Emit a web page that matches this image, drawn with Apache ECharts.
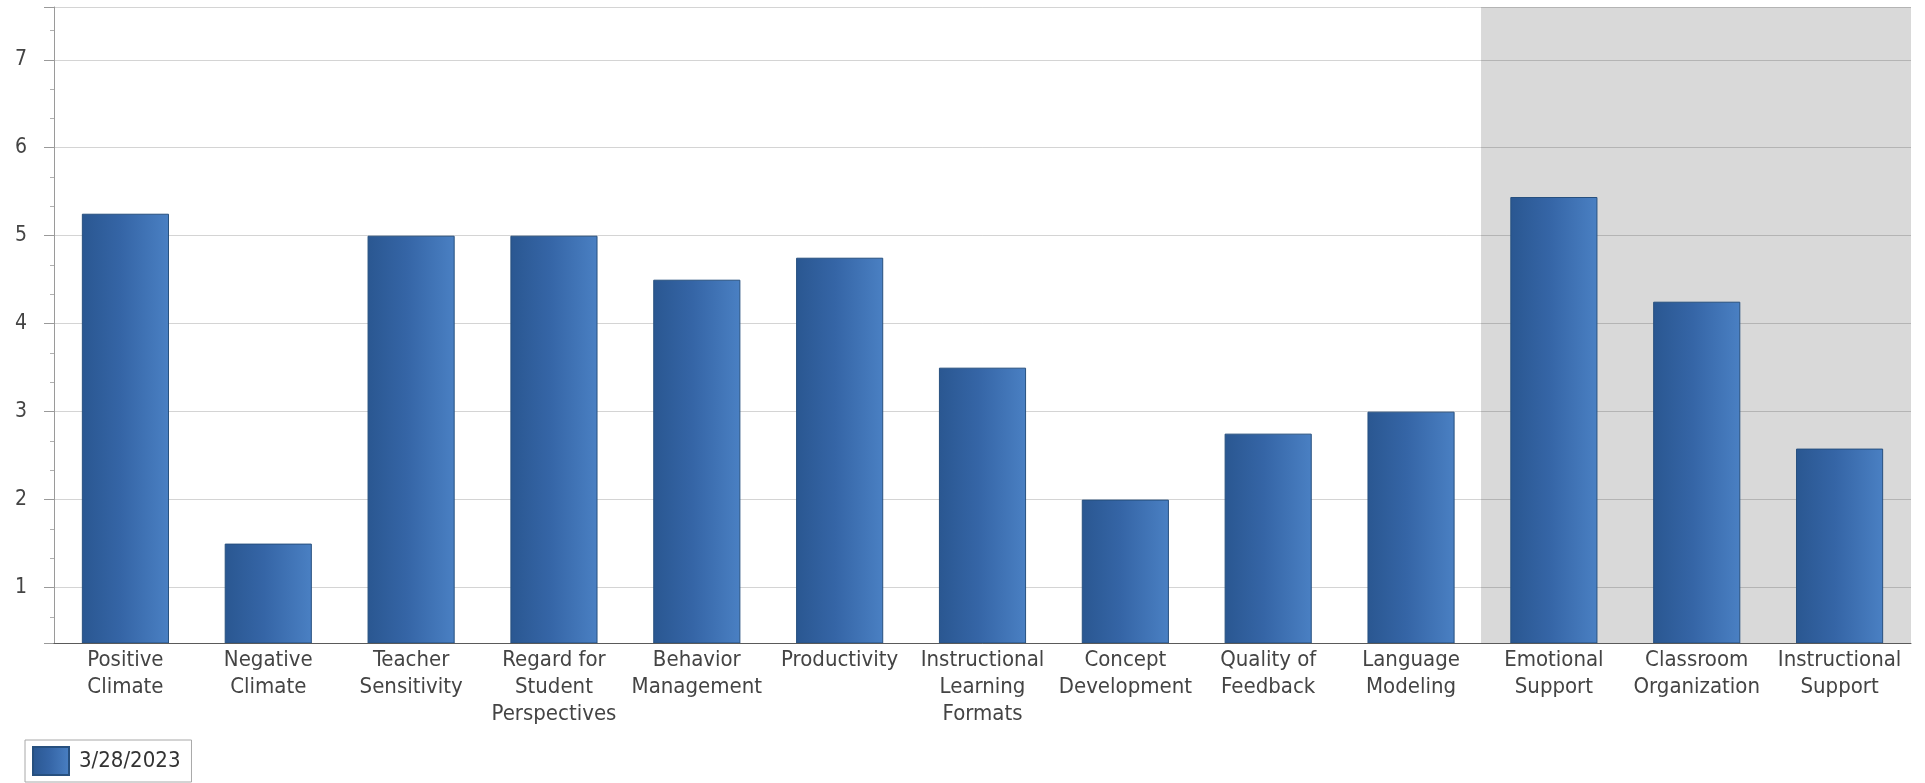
<!DOCTYPE html>
<html>
<head>
<meta charset="utf-8">
<title>CLASS Domain Scores</title>
<script src="https://cdn.jsdelivr.net/npm/echarts@6/dist/echarts.min.js"></script>
<style>
  html, body { margin: 0; padding: 0; background: #ffffff; }
  #chart { width: 1925px; height: 783px; }
</style>
</head>
<body>
<div id="chart"></div>
<script>
// Dimension and domain names, as printed under each bar
const categories = [
  'Positive\nClimate',
  'Negative\nClimate',
  'Teacher\nSensitivity',
  'Regard for\nStudent\nPerspectives',
  'Behavior\nManagement',
  'Productivity',
  'Instructional\nLearning\nFormats',
  'Concept\nDevelopment',
  'Quality of\nFeedback',
  'Language\nModeling',
  'Emotional\nSupport',
  'Classroom\nOrganization',
  'Instructional\nSupport'
];

// Observation scores for the session
const sessionName = '3/28/2023';
const scores = [5.25, 1.5, 5, 5, 4.5, 4.75, 3.5, 2, 2.75, 3, 5.44, 4.25, 2.58];

// Domain summary columns get a shaded backdrop
const domainColumns = [false, false, false, false, false, false, false, false, false, false, true, true, true];

// Value axis range and tick labels
const yMin = 0.37;
const yMax = 7.6;
const yTickLabels = [1, 2, 3, 4, 5, 6, 7];

const FONT = "'DejaVu Sans Condensed', 'DejaVu Sans', sans-serif";

const barFill = new echarts.graphic.LinearGradient(0, 0, 1, 0, [
  { offset: 0, color: '#2a5791' },
  { offset: 0.45, color: '#3565a6' },
  { offset: 1, color: '#4a80c3' }
]);

const chart = echarts.init(document.getElementById('chart'), null, { renderer: 'canvas' });

chart.setOption({
  animation: false,
  backgroundColor: '#ffffff',
  grid: { left: 54, right: 14, top: 7, bottom: 140, containLabel: false },
  legend: {
    left: 25,
    top: 740,
    data: [sessionName],
    icon: 'rect',
    itemWidth: 36,
    itemHeight: 28,
    borderColor: '#a8a8a8',
    borderWidth: 1,
    borderRadius: 0,
    padding: [6, 11, 6, 7],
    textStyle: { fontFamily: FONT, fontSize: 22, color: '#333333', padding: [0, 0, 0, 5] }
  },
  xAxis: [
    {
      type: 'category',
      data: categories,
      boundaryGap: true,
      axisLine: { show: true, lineStyle: { color: '#5a5a5a', width: 1 } },
      axisTick: { show: false },
      axisLabel: {
        interval: 0,
        margin: 4,
        fontFamily: FONT,
        fontSize: 22,
        lineHeight: 27,
        color: '#444444',
        align: 'center'
      },
      splitLine: { show: false },
      z: 3
    },
    {
      type: 'category',
      data: categories,
      boundaryGap: true,
      show: false
    }
  ],
  yAxis: {
    type: 'value',
    min: yMin,
    max: yMax,
    splitNumber: 7,
    z: 1.5,
    axisLine: { show: true, lineStyle: { color: '#9a9a9a', width: 1 } },
    axisTick: { show: true, length: 10, lineStyle: { color: '#9a9a9a' } },
    minorTick: { show: true, splitNumber: 3, length: 4, lineStyle: { color: '#b0b0b0' } },
    axisLabel: {
      margin: 27,
      fontFamily: FONT,
      fontSize: 21,
      color: '#444444',
      showMinLabel: false,
      showMaxLabel: false,
      formatter: function (v) {
        return yTickLabels.indexOf(v) >= 0 ? String(v) : '';
      }
    },
    splitLine: { show: true, lineStyle: { color: 'rgba(0,0,0,0.17)', width: 1 } }
  },
  series: [
    {
      name: 'domain-backdrop',
      type: 'bar',
      xAxisIndex: 1,
      barWidth: '102%',
      silent: true,
      clip: true,
      z: 1,
      itemStyle: { color: '#d9d9d9' },
      data: domainColumns.map(function (d) { return d ? yMax : null; })
    },
    {
      name: sessionName,
      type: 'bar',
      xAxisIndex: 0,
      barCategoryGap: '39%',
      z: 2,
      itemStyle: { color: barFill, borderColor: '#27507f', borderWidth: 1 },
      data: scores
    }
  ]
});
</script>
</body>
</html>
